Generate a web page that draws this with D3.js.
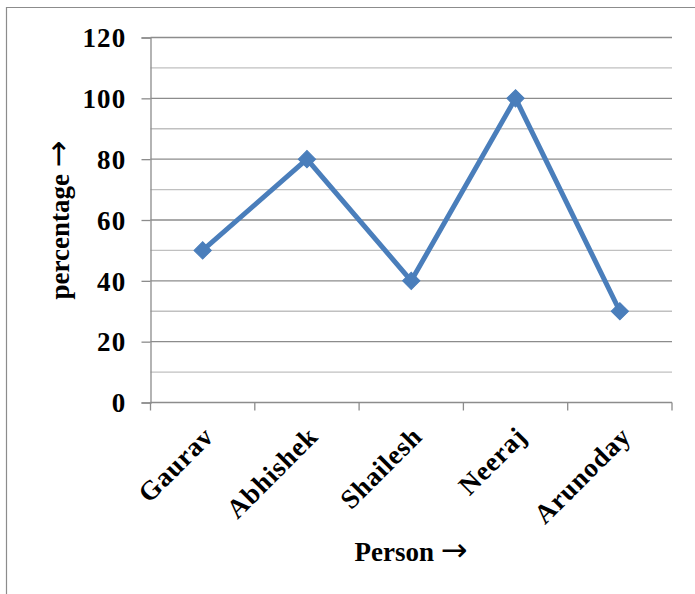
<!DOCTYPE html>
<html><head><meta charset="utf-8">
<script src="https://cdn.jsdelivr.net/npm/d3@7"></script>
<style>html,body{margin:0;padding:0;background:#fff;}svg{display:block;}</style>
</head><body>
<svg id="chart" width="695" height="594"></svg>
<script>
const categories = ["Gaurav", "Abhishek", "Shailesh", "Neeraj", "Arunoday"];
const values = [50, 80, 40, 100, 30];
const yTicks = [0, 20, 40, 60, 80, 100, 120];
const yMinorTicks = [10, 30, 50, 70, 90, 110];
const xTitle = "Person";
const yTitle = "percentage";
const arrow = "→";

(function () {
const svg = d3.select("#chart");
const font = "'Liberation Serif', 'Times New Roman', serif";
const arrowFont = "'DejaVu Sans', sans-serif";
const pLeft = 150.5, pRight = 672, pTop = 37.5, pBottom = 402.5;

// outer frame (left and top edges visible)
svg.append("path").attr("d", "M6.5,594 V7.5 H695")
  .attr("fill", "none").attr("stroke", "#8c8c8c").attr("stroke-width", 1.2);

const x = d3.scaleBand().domain(categories).range([pLeft, pRight]).paddingInner(0).paddingOuter(0);
const y = d3.scaleLinear().domain([0, 120]).range([pBottom, pTop]);

// minor gridlines
svg.append("g").selectAll("line").data(yMinorTicks).join("line")
  .attr("x1", pLeft).attr("x2", pRight)
  .attr("y1", d => y(d)).attr("y2", d => y(d))
  .attr("stroke", "#c0c0c0").attr("stroke-width", 1.3);
// major gridlines
svg.append("g").selectAll("line").data(yTicks.filter(d => d > 0)).join("line")
  .attr("x1", pLeft).attr("x2", pRight)
  .attr("y1", d => y(d)).attr("y2", d => y(d))
  .attr("stroke", "#8c8c8c").attr("stroke-width", 1.3);

// y axis
const yAxis = d3.axisLeft(y).tickValues(yTicks).tickSize(9).tickPadding(15);
const gy = svg.append("g").attr("transform", `translate(${pLeft},0)`).call(yAxis);
gy.select(".domain").attr("stroke", "#8c8c8c").attr("stroke-width", 1.3);
gy.selectAll(".tick line").attr("stroke", "#8c8c8c").attr("stroke-width", 1.3);
gy.selectAll(".tick text").attr("font-family", font).attr("font-weight", "bold")
  .attr("font-size", 27).attr("letter-spacing", "1.2px").attr("fill", "#000").attr("dy", "0.34em");

// x axis with tick marks at category boundaries
const gx = svg.append("g").attr("transform", `translate(0,${pBottom})`);
gx.append("line").attr("x1", pLeft).attr("x2", pRight).attr("y1", 0).attr("y2", 0)
  .attr("stroke", "#8c8c8c").attr("stroke-width", 1.3);
const boundaries = categories.map(c => x(c)).concat([pRight]);
gx.selectAll("line.tk").data(boundaries).join("line").attr("class", "tk")
  .attr("x1", d => d).attr("x2", d => d).attr("y1", 0).attr("y2", 8)
  .attr("stroke", "#8c8c8c").attr("stroke-width", 1.3);
gx.selectAll("text").data(categories).join("text")
  .attr("transform", d => `translate(${x(d) + x.bandwidth() / 2 + 3},${26}) rotate(-45)`)
  .attr("text-anchor", "end")
  .attr("dy", "0.5em")
  .attr("font-family", font).attr("font-weight", "bold").attr("font-size", 27)
  .attr("letter-spacing", "0.8px")
  .text(d => d);

// line
const cx = d => x(d) + x.bandwidth() / 2;
const line = d3.line().x((d, i) => cx(categories[i])).y(d => y(d));
svg.append("path").datum(values).attr("d", line)
  .attr("fill", "none").attr("stroke", "#4a7ebb").attr("stroke-width", 5)
  .attr("stroke-linejoin", "round");
svg.append("g").selectAll("path").data(values).join("path")
  .attr("transform", (d, i) => `translate(${cx(categories[i])},${y(d)}) rotate(45)`)
  .attr("d", d3.symbol().type(d3.symbolSquare).size(150))
  .attr("fill", "#4a7ebb").attr("stroke", "#4a7ebb").attr("stroke-width", 1);

// titles
const xt = svg.append("text").attr("x", 411).attr("y", 561).attr("text-anchor", "middle")
  .attr("font-family", font).attr("font-weight", "bold").attr("font-size", 27);
xt.append("tspan").text(xTitle + " ");
xt.append("tspan").attr("font-family", arrowFont).attr("font-weight", "normal").attr("font-size", 32).text(arrow);
const yt = svg.append("text").attr("transform", "translate(69,220) rotate(-90)").attr("text-anchor", "middle")
  .attr("font-family", font).attr("font-weight", "bold").attr("font-size", 27);
yt.append("tspan").text(yTitle + " ");
yt.append("tspan").attr("font-family", arrowFont).attr("font-weight", "normal").attr("font-size", 32).text(arrow);
})();
</script>
</body></html>
